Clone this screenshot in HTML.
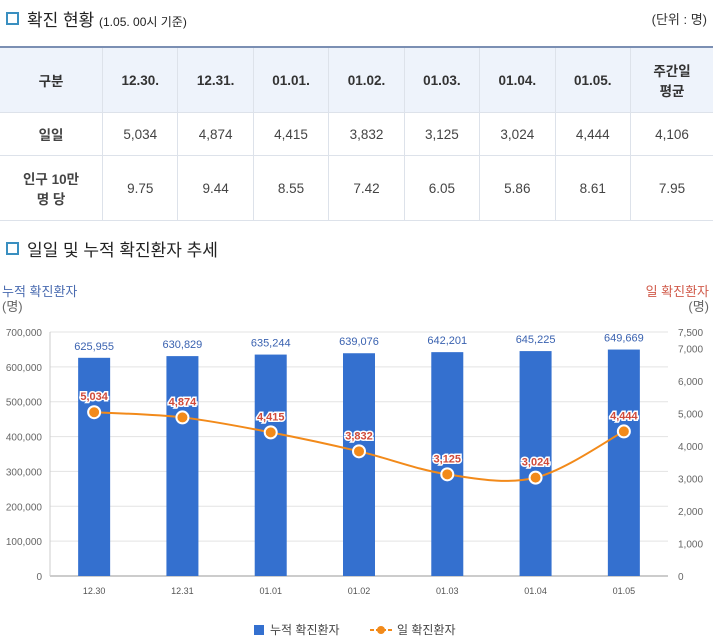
<!DOCTYPE html>
<html><head><meta charset="utf-8"><style>
body{margin:0;width:713px;height:639px;background:#fff;font-family:"Liberation Sans","Noto Sans CJK KR",sans-serif;color:#333;overflow:hidden;position:relative}
.h{position:absolute;font-size:17px;color:#222}
.sq{display:inline-block;width:9px;height:9px;border:2px solid #3a8fc0;margin-right:8px;vertical-align:1px}
table{position:absolute;left:0;top:46px;width:713px;border-collapse:collapse;border-top:2px solid #7b8fb3;font-size:13.5px;text-align:center}
td{border:1px solid #dde2ea;color:#444}
tr:first-child td{background:#eef3fb;font-weight:bold;color:#333;height:62px}
td:first-child{font-weight:bold;border-left:none}
td:last-child{border-right:none}
</style></head><body>
<div class="h" style="left:6px;top:6px"><span class="sq"></span>확진 현황 <span style="font-size:12px">(1.05. 00시 기준)</span></div>
<div style="position:absolute;right:6px;top:9px;font-size:13px">(단위 : 명)</div>
<table>
<tr><td style="width:100px">구분</td><td>12.30.</td><td>12.31.</td><td>01.01.</td><td>01.02.</td><td>01.03.</td><td>01.04.</td><td>01.05.</td><td style="width:80px">주간일<br>평균</td></tr>
<tr style="height:43px"><td>일일</td><td>5,034</td><td>4,874</td><td>4,415</td><td>3,832</td><td>3,125</td><td>3,024</td><td>4,444</td><td>4,106</td></tr>
<tr style="height:65px"><td>인구 10만<br>명 당</td><td>9.75</td><td>9.44</td><td>8.55</td><td>7.42</td><td>6.05</td><td>5.86</td><td>8.61</td><td>7.95</td></tr>
</table>
<div class="h" style="left:6px;top:236px"><span class="sq"></span>일일 및 누적 확진환자 추세</div>
<svg id="c" width="713" height="639" style="position:absolute;left:0;top:0"></svg>
<script>
const categories=["12.30","12.31","01.01","01.02","01.03","01.04","01.05"];
const cumulative=[625955,630829,635244,639076,642201,645225,649669];
const daily=[5034,4874,4415,3832,3125,3024,4444];
const leftTicks=[0,100000,200000,300000,400000,500000,600000,700000];
const rightTicks=[0,1000,2000,3000,4000,5000,6000,7000,7500];
const NS="http://www.w3.org/2000/svg",svg=document.getElementById('c');
const X0=50,X1=668,Y0=576,Y1=332;
const band=(X1-X0)/categories.length;
const xc=i=>X0+band*(i+0.5);
const yl=v=>Y0-(Y1-Y0)*-1*v/700000*-1*-1;
const yL=v=>Y0-(Y0-Y1)*v/700000;
const yR=v=>Y0-(Y0-Y1)*v/7500;
const fmt=v=>v.toLocaleString('en-US');
function mk(t,a,txt){const e=document.createElementNS(NS,t);for(const k in a)e.setAttribute(k,a[k]);if(txt!=null)e.textContent=txt;svg.appendChild(e);return e;}
leftTicks.forEach(v=>{const l=mk('line',{x1:X0,x2:X1,y1:yL(v),y2:yL(v),stroke:v?'#e3e3e3':'#999'});
const t=mk('text',{x:42,y:yL(v)+4,'text-anchor':'end','font-size':10,fill:'#666'},v?fmt(v):'0');});
mk('line',{x1:X0,x2:X0,y1:Y1,y2:Y0,stroke:'#ccc'});
rightTicks.forEach(v=>{const t=mk('text',{x:678,y:yR(v)+4,'font-size':10,fill:'#666'},fmt(v));});
categories.forEach((c,i)=>{const t=mk('text',{x:xc(i),y:594,'text-anchor':'middle','font-size':9,fill:'#555'},c);
const b=mk('rect',{x:xc(i)-16,y:yL(cumulative[i]),width:32,height:Y0-yL(cumulative[i]),fill:'#3470cf'});
const l=mk('text',{x:xc(i),y:yL(cumulative[i])-8,'text-anchor':'middle','font-size':11,fill:'#3a62b0'},fmt(cumulative[i]));});
const pts=daily.map((v,i)=>[xc(i),yR(v)]);
let d='M'+pts[0];for(let i=0;i<pts.length-1;i++){const p0=pts[i-1]||pts[i],p1=pts[i],p2=pts[i+1],p3=pts[i+2]||p2;
d+=' C'+(p1[0]+(p2[0]-p0[0])/6)+','+(p1[1]+(p2[1]-p0[1])/6)+' '+(p2[0]-(p3[0]-p1[0])/6)+','+(p2[1]-(p3[1]-p1[1])/6)+' '+p2;}
const ln=mk('path',{d:d,fill:'none',stroke:'#f28a1a','stroke-width':2});
pts.forEach((p,i)=>{const c=mk('circle',{cx:p[0],cy:p[1],r:6,fill:'#f28a1a',stroke:'#fff','stroke-width':2});
const t=mk('text',{x:p[0],y:p[1]-12,'text-anchor':'middle','font-size':11,'font-weight':'bold',fill:'#d04a3a',stroke:'#fff','stroke-width':3,'paint-order':'stroke'},fmt(daily[i]));});
mk('text',{x:2,y:296,'font-size':13,fill:'#4a6bb0'},'누적 확진환자');
mk('text',{x:2,y:311,'font-size':13,fill:'#666'},'(명)');
mk('text',{x:709,y:296,'text-anchor':'end','font-size':13,fill:'#d05a4a'},'일 확진환자');
mk('text',{x:709,y:311,'text-anchor':'end','font-size':13,fill:'#666'},'(명)');
const lg1=mk('rect',{x:254,y:625,width:10,height:10,fill:'#3470cf'});
mk('text',{x:270,y:634,'font-size':12,fill:'#444'},'누적 확진환자');
mk('line',{x1:370,x2:392,y1:630,y2:630,stroke:'#f28a1a','stroke-width':2,'stroke-dasharray':'4,2'});
const lg2=mk('circle',{cx:381,cy:630,r:4,fill:'#f28a1a'});
mk('text',{x:397,y:634,'font-size':12,fill:'#444'},'일 확진환자');
</script>
</body></html>
